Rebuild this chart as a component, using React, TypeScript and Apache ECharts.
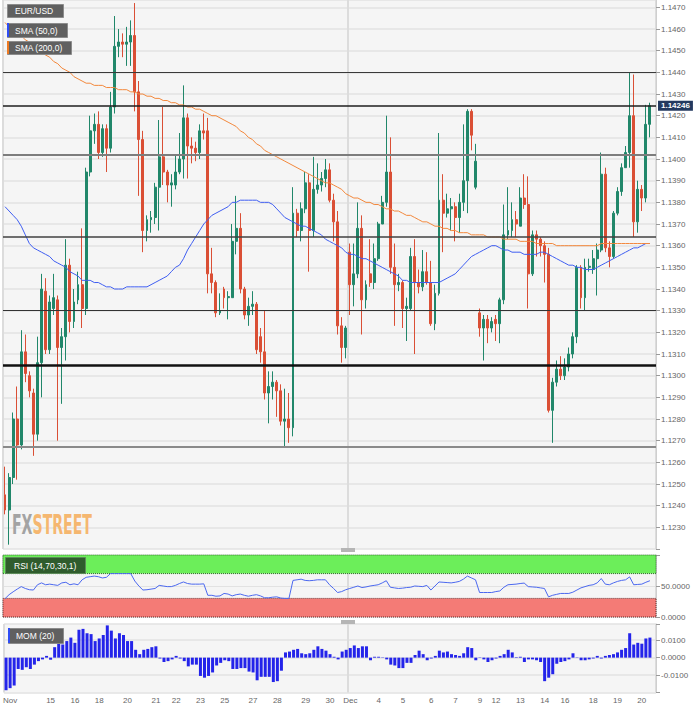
import React, { useEffect, useRef } from 'react';
import * as echarts from 'echarts';

// [open, high, low, close]
const candles: number[][] = [
  [1.1245, 1.1258, 1.1236, 1.1238], [1.1238, 1.1255, 1.1222, 1.1253], [1.1253, 1.1283, 1.1250, 1.1280], [1.1280, 1.1295, 1.1252, 1.1268],
  [1.1268, 1.1321, 1.1266, 1.1311], [1.1311, 1.1319, 1.1297, 1.1301], [1.1300, 1.1302, 1.1290, 1.1293], [1.1292, 1.1294, 1.1263, 1.1273],
  [1.1273, 1.1318, 1.1270, 1.1306], [1.1306, 1.1347, 1.1290, 1.1340], [1.1339, 1.1345, 1.1310, 1.1312], [1.1312, 1.1337, 1.1310, 1.1334],
  [1.1331, 1.1347, 1.1328, 1.1336], [1.1335, 1.1337, 1.1270, 1.1313], [1.1313, 1.1322, 1.1287, 1.1318], [1.1318, 1.1363, 1.1307, 1.1351],
  [1.1351, 1.1354, 1.1320, 1.1325], [1.1325, 1.1340, 1.1322, 1.1334], [1.1335, 1.1348, 1.1333, 1.1342], [1.1342, 1.1368, 1.1322, 1.1331],
  [1.1331, 1.1396, 1.1328, 1.1394], [1.1394, 1.1420, 1.1392, 1.1413], [1.1413, 1.1421, 1.1407, 1.1416], [1.1416, 1.1422, 1.1400, 1.1403],
  [1.1403, 1.1416, 1.1401, 1.1414], [1.1414, 1.1416, 1.1394, 1.1405], [1.1405, 1.1431, 1.1403, 1.1424], [1.1424, 1.1466, 1.1421, 1.1452],
  [1.1452, 1.1460, 1.1447, 1.1454], [1.1454, 1.1458, 1.1447, 1.1453], [1.1453, 1.1461, 1.1443, 1.1454], [1.1454, 1.1464, 1.1443, 1.1457],
  [1.1457, 1.1472, 1.1422, 1.1431], [1.1431, 1.1436, 1.1383, 1.1409], [1.1409, 1.1413, 1.1357, 1.1367], [1.1367, 1.1374, 1.1362, 1.1372],
  [1.1372, 1.1376, 1.1366, 1.1373], [1.1373, 1.1389, 1.1370, 1.1387], [1.1387, 1.1418, 1.1367, 1.1401], [1.1401, 1.1424, 1.1388, 1.1394],
  [1.1394, 1.1395, 1.1380, 1.1388], [1.1388, 1.1393, 1.1378, 1.1389], [1.1388, 1.1402, 1.1386, 1.1394], [1.1394, 1.1412, 1.1393, 1.1400],
  [1.1400, 1.1434, 1.1391, 1.1419], [1.1419, 1.1421, 1.1391, 1.1406], [1.1406, 1.1410, 1.1398, 1.1405], [1.1405, 1.1408, 1.1399, 1.1403],
  [1.1403, 1.1416, 1.1400, 1.1413], [1.1413, 1.1421, 1.1409, 1.1412], [1.1413, 1.1419, 1.1338, 1.1347], [1.1347, 1.1359, 1.1338, 1.1343],
  [1.1343, 1.1344, 1.1327, 1.1329], [1.1329, 1.1338, 1.1328, 1.1330], [1.1340, 1.1341, 1.1331, 1.1336], [1.1336, 1.1339, 1.1326, 1.13365],
  [1.1336, 1.1370, 1.1336, 1.1362], [1.1362, 1.1383, 1.1356, 1.1368], [1.1368, 1.1375, 1.1338, 1.1340], [1.1340, 1.1341, 1.1326, 1.1328],
  [1.1328, 1.1336, 1.1323, 1.1332], [1.1332, 1.1339, 1.1328, 1.1333], [1.1333, 1.1334, 1.1310, 1.1312], [1.1318, 1.1322, 1.1306, 1.1311],
  [1.1311, 1.1330, 1.1289, 1.1292], [1.1292, 1.1302, 1.1278, 1.1295], [1.1295, 1.1302, 1.1289, 1.1297], [1.1297, 1.1298, 1.1281, 1.1293],
  [1.1293, 1.1296, 1.1277, 1.1279], [1.1279, 1.1294, 1.1267, 1.1280], [1.1280, 1.1292, 1.1269, 1.1276], [1.1276, 1.1387, 1.1272, 1.1375],
  [1.1375, 1.1377, 1.1364, 1.1367], [1.1367, 1.1380, 1.1362, 1.1377], [1.1377, 1.1394, 1.1375, 1.1389], [1.1389, 1.1393, 1.1348, 1.1367],
  [1.1367, 1.1401, 1.1364, 1.1386], [1.1386, 1.1398, 1.1384, 1.1388], [1.1388, 1.1394, 1.1385, 1.1391], [1.1391, 1.1400, 1.1387, 1.1395],
  [1.1395, 1.1398, 1.1380, 1.1381], [1.1381, 1.1384, 1.1362, 1.1371], [1.1371, 1.1376, 1.1319, 1.1323], [1.1323, 1.1327, 1.1306, 1.1313],
  [1.1313, 1.1323, 1.1308, 1.1322], [1.1357, 1.1361, 1.1328, 1.1342], [1.1342, 1.1361, 1.1332, 1.1347], [1.1347, 1.1380, 1.1345, 1.1368],
  [1.1368, 1.1374, 1.1319, 1.1335], [1.1335, 1.1344, 1.1331, 1.1342], [1.1347, 1.1363, 1.1341, 1.1343], [1.1343, 1.1361, 1.1340, 1.1354],
  [1.1354, 1.1371, 1.1353, 1.1370], [1.1370, 1.1383, 1.1370, 1.1380], [1.1380, 1.1420, 1.1378, 1.1394], [1.1394, 1.1410, 1.1347, 1.1350],
  [1.1350, 1.1361, 1.1323, 1.1342], [1.1342, 1.1347, 1.1339, 1.1343], [1.1343, 1.1344, 1.1322, 1.1331], [1.1331, 1.1336, 1.1316, 1.1332],
  [1.1331, 1.1359, 1.1330, 1.1355], [1.1355, 1.1363, 1.1310, 1.1343], [1.1343, 1.1349, 1.1338, 1.1341], [1.1341, 1.1358, 1.1339, 1.1348],
  [1.1348, 1.1357, 1.1342, 1.1343], [1.1343, 1.1353, 1.1323, 1.1324], [1.1324, 1.1342, 1.1321, 1.1338], [1.1338, 1.1412, 1.1337, 1.1381],
  [1.1381, 1.1393, 1.1357, 1.1375], [1.1375, 1.1384, 1.1373, 1.1377], [1.1377, 1.1382, 1.1367, 1.1378], [1.1378, 1.1380, 1.1362, 1.1373],
  [1.1373, 1.1384, 1.1366, 1.1380], [1.1380, 1.1416, 1.1376, 1.1390], [1.1390, 1.1423, 1.1375, 1.1422], [1.1422, 1.1423, 1.1404, 1.1411],
  [1.1387, 1.1407, 1.1386, 1.1399], [1.1329, 1.1331, 1.1318, 1.1322], [1.1322, 1.1328, 1.1307, 1.1326], [1.1326, 1.1328, 1.1315, 1.1322],
  [1.1322, 1.1327, 1.1320, 1.1325], [1.1326, 1.1328, 1.1316, 1.1324], [1.1324, 1.1336, 1.1315, 1.1335], [1.1335, 1.1379, 1.1333, 1.1365],
  [1.1365, 1.1387, 1.1363, 1.1367], [1.1367, 1.1380, 1.1364, 1.1372], [1.1372, 1.1376, 1.1364, 1.1370], [1.1369, 1.1387, 1.1369, 1.1382],
  [1.1382, 1.1393, 1.1377, 1.1379], [1.1379, 1.1392, 1.1331, 1.1347], [1.1347, 1.1367, 1.1346, 1.1365], [1.1365, 1.1367, 1.1355, 1.1363],
  [1.1363, 1.1364, 1.1355, 1.1360], [1.1360, 1.1362, 1.1343, 1.1356], [1.1356, 1.1359, 1.1283, 1.1284], [1.1284, 1.1299, 1.1269, 1.1297],
  [1.1297, 1.1307, 1.1295, 1.1303], [1.1303, 1.1309, 1.1298, 1.1300], [1.1300, 1.1308, 1.1298, 1.1304], [1.1304, 1.1313, 1.1302, 1.1310],
  [1.1310, 1.1320, 1.1308, 1.1318], [1.1318, 1.1351, 1.1315, 1.1350], [1.1350, 1.1351, 1.1331, 1.1336], [1.1336, 1.1354, 1.1330, 1.1350],
  [1.1350, 1.1354, 1.1348, 1.13505], [1.1349, 1.1358, 1.1347, 1.1354], [1.1354, 1.1361, 1.1337, 1.1358], [1.1358, 1.1403, 1.1357, 1.1393],
  [1.1393, 1.1396, 1.1357, 1.1359], [1.1359, 1.1362, 1.1350, 1.1355], [1.1355, 1.1376, 1.1354, 1.1375], [1.1375, 1.1387, 1.1374, 1.1385],
  [1.1385, 1.1398, 1.1383, 1.1396], [1.1396, 1.1406, 1.1396, 1.1403], [1.1403, 1.1440, 1.1396, 1.1420], [1.1420, 1.1439, 1.1364, 1.1371],
  [1.1371, 1.1390, 1.1366, 1.1386], [1.1386, 1.1388, 1.1376, 1.1382], [1.1382, 1.1425, 1.1380, 1.1416], [1.1416, 1.1426, 1.1410, 1.14246],
];

const sma50 = [
  1.1378, 1.1376, 1.1374, 1.1372, 1.1369, 1.1365, 1.1361, 1.1359, 1.1358, 1.1357,
  1.1356, 1.1355, 1.1353, 1.1352, 1.1351, 1.1350, 1.1348, 1.1347, 1.1346, 1.1344,
  1.1344, 1.1344, 1.1343, 1.1343, 1.1342, 1.1341, 1.1341, 1.1340, 1.1340, 1.1340,
  1.1341, 1.1341, 1.1341, 1.1341, 1.1341, 1.1341, 1.1342, 1.1343, 1.1344, 1.1345,
  1.1346, 1.1348, 1.1350, 1.1351, 1.1354, 1.1358, 1.1361, 1.1364, 1.1367, 1.1370,
  1.1372, 1.1374, 1.1375, 1.1376, 1.1377, 1.1378, 1.1380, 1.1380, 1.1381, 1.1381,
  1.1381, 1.1381, 1.1381, 1.1380, 1.1380, 1.1380, 1.1379, 1.1377, 1.1375, 1.1373,
  1.1372, 1.1371, 1.1370, 1.1369, 1.1369, 1.1368, 1.1367, 1.1366, 1.1365, 1.1363,
  1.1362, 1.1361, 1.1360, 1.1359, 1.1357, 1.1356, 1.1356, 1.1355, 1.1354, 1.1354,
  1.1353, 1.1352, 1.1351, 1.1350, 1.1349, 1.1348, 1.1347, 1.1346, 1.1344, 1.1344,
  1.1343, 1.1343, 1.1343, 1.1343, 1.1343, 1.1343, 1.1343, 1.1343, 1.1344, 1.1345,
  1.1346, 1.1347, 1.1349, 1.1351, 1.1353, 1.1355, 1.1356, 1.1357, 1.1358, 1.1359,
  1.1360, 1.1360, 1.1359, 1.1358, 1.1358, 1.1357, 1.1357, 1.1357, 1.1356, 1.1356,
  1.1356, 1.1356, 1.1357, 1.1357, 1.1356, 1.1355, 1.1354, 1.1353, 1.1352, 1.1351,
  1.1351, 1.1350, 1.1350, 1.1349, 1.1349, 1.1349, 1.1350, 1.1351, 1.1352, 1.1353,
  1.1354, 1.1355, 1.1356, 1.1357, 1.1358, 1.1359, 1.1359, 1.1360, 1.1361, 1.1361,
];

const sma200 = [
  1.1463, 1.1461, 1.1460, 1.1458, 1.1457, 1.1455, 1.1454, 1.1452, 1.1451, 1.1449,
  1.1448, 1.1447, 1.1445, 1.1444, 1.1442, 1.1441, 1.1440, 1.1438, 1.1437, 1.1436,
  1.1435, 1.1435, 1.1434, 1.1434, 1.1434, 1.1433, 1.1433, 1.1433, 1.1432, 1.1432,
  1.1432, 1.1431, 1.1431, 1.1430, 1.1430, 1.1429, 1.1429, 1.1428, 1.1428, 1.1427,
  1.1427, 1.1426, 1.1426, 1.1425, 1.1425, 1.1424, 1.1424, 1.1423, 1.1423, 1.1422,
  1.1421, 1.1420, 1.1420, 1.1419, 1.1418, 1.1417, 1.1416, 1.1415, 1.1413, 1.1412,
  1.1410, 1.1409, 1.1407, 1.1406, 1.1404, 1.1403, 1.1402, 1.1401, 1.1400, 1.1399,
  1.1398, 1.1397, 1.1396, 1.1395, 1.1394, 1.1393, 1.1392, 1.1391, 1.1390, 1.1389,
  1.1389, 1.1388, 1.1387, 1.1386, 1.1384, 1.1383, 1.1382, 1.1382, 1.1381, 1.1380,
  1.1380, 1.1379, 1.1379, 1.1378, 1.1377, 1.1377, 1.1376, 1.1376, 1.1375, 1.1374,
  1.1374, 1.1373, 1.1372, 1.1371, 1.1371, 1.1370, 1.1369, 1.1369, 1.1368, 1.1368,
  1.1367, 1.1367, 1.1366, 1.1366, 1.1366, 1.1365, 1.1365, 1.1365, 1.1365, 1.1364,
  1.1364, 1.1364, 1.1364, 1.1363, 1.1363, 1.1363, 1.1363, 1.1362, 1.1362, 1.1362,
  1.1362, 1.1361, 1.1361, 1.1361, 1.1361, 1.1361, 1.1360, 1.1360, 1.1360, 1.1360,
  1.1360, 1.1360, 1.1360, 1.1360, 1.1360, 1.1360, 1.1360, 1.1361, 1.1361, 1.1361,
  1.1361, 1.1361, 1.1361, 1.1361, 1.1361, 1.1361, 1.1361, 1.1361, 1.1361, 1.1361,
];

const rsi = [
  29.5, 36, 40.6, 45, 49, 46, 44, 43.5, 52, 55,
  52, 53, 52, 51, 55, 56, 52, 53.5, 52, 60,
  64, 65, 66, 65, 63, 64, 70, 70, 70, 70,
  70, 70, 58, 50, 43.5, 44, 45, 46, 51, 50,
  49, 49, 51, 54, 56.5, 54, 53, 53, 53, 53.5,
  35, 35, 33.5, 34, 38, 37, 34, 36, 37, 35,
  33.5, 35, 36, 34, 31, 31, 32, 32.5, 30.5, 30,
  30, 59, 60, 61, 59, 58.5, 59, 60, 60, 60,
  52, 46, 39.5, 41, 44, 46, 48, 50, 47.5, 48.5,
  50, 51, 52, 55, 58.5, 48, 47, 46, 46.5, 47.5,
  48, 50, 49.5, 49, 51, 43.5, 50, 56.5, 56, 55.5,
  55, 56, 57.4, 61, 66, 63, 60, 39.5, 39.5, 39.5,
  39.5, 41, 42, 48, 52, 52.5, 53, 54, 54.7, 49,
  48.5, 48, 47, 46, 32.5, 35, 36.5, 38, 38, 38,
  40, 43.5, 47, 49, 51, 52, 55, 62, 53, 52,
  55, 57.4, 59, 60, 64.7, 52, 52.5, 53, 56, 58.5,
];

const mom = [
  -0.0187, -0.0175, -0.016, -0.0065, -0.007, -0.0055, -0.0065, -0.004, -0.002, -0.001,
  0.001, -0.0012, 0.006, 0.009, 0.0075, 0.0095, 0.0115, 0.0085, 0.016, 0.0165,
  0.014, 0.0135, 0.0095, 0.011, 0.013, 0.0185, 0.0155, 0.011, 0.014, 0.013,
  0.0095, 0.0095, 0.0045, 0.002, 0.0045, 0.005, 0.006, 0.0065, -0.0005, -0.0025,
  -0.002, -0.001, 0.001, -0.0005, -0.002, -0.005, -0.004, -0.004, -0.0105, -0.0115,
  -0.0105, -0.0085, -0.0045, -0.003, -0.0015, -0.002, -0.0065, -0.0065, -0.006, -0.006,
  -0.008, -0.0085, -0.013, -0.011, -0.011, -0.011, -0.014, -0.0135, -0.0075, 0.003,
  0.0035, 0.0045, 0.005, 0.0025, 0.002, 0.0025, 0.0045, 0.0065, 0.005, 0.004,
  0.002, 0.0005, -0.001, 0.0035, 0.0045, 0.0055, 0.007, 0.0055, 0.0065, 0.0065,
  -0.0015, 0.0005, 0.0005, 0.0002, -0.001, -0.004, -0.0045, -0.006, -0.006, -0.003,
  -0.003, 0.0015, 0.004, 0.002, -0.0015, -0.0005, 0.001, 0.004, 0.003, 0.0035,
  0.002, 0.0015, 0.001, 0.0025, 0.006, 0.0055, -0.0015, 0.0002, -0.001, -0.0025,
  -0.0015, -0.0005, 0.001, 0.002, 0.0045, 0.003, 0.0003, 0.0005, -0.0025, -0.001,
  -0.001, -0.0015, -0.0025, -0.0135, -0.0115, -0.0095, -0.0035, -0.0025, -0.002, -0.001,
  0.0025, 0.0002, -0.0015, -0.0015, -0.001, -0.0005, 0.001, -0.0005, 0.001, 0.0015,
  0.002, 0.003, 0.0045, 0.0055, 0.014, 0.0075, 0.0085, 0.008, 0.011, 0.0115,
];

const levels = [1.144, 1.14246, 1.1402, 1.1364, 1.133, 1.1305, 1.12672];
const dayLabels = ['Nov', '15', '16', '18', '20', '21', '22', '23', '25', '27', '28', '29', '30', 'Dec', '4', '5', '6', '7', '9', '12', '13', '14', '16', '18', '19', '20'];
const dayLabelIndex = [1, 11, 17, 23, 30, 37, 42, 48, 54, 61, 67, 74, 80, 85, 92, 98, 105, 111, 117, 121, 127, 133, 138, 145, 151, 157];
const monthStartIndex = [0, 85];
const legendNames = ['EUR/USD', 'SMA (50,0)', 'SMA (200,0)'];

const FONT = '"Liberation Sans", Arial, sans-serif';
const TEAL = '#21876a';
const RED = '#da4f35';

const levelStyle = (i: number) => {
  const styles = [
    { color: '#3a3a3a', width: 1 },
    { color: '#1e1e1e', width: 1.5 },
    { color: '#7d7d7d', width: 2 },
    { color: '#404040', width: 1.5 },
    { color: '#333333', width: 1 },
    { color: '#111111', width: 2.5 },
    { color: '#8a8a8a', width: 2 },
  ];
  return styles[i];
};

export default function App() {
  const ref = useRef<HTMLDivElement>(null);
  useEffect(() => {
    const chart = echarts.init(ref.current!, null, { renderer: 'svg' });
    const n = candles.length;
    const categories = Array.from({ length: n + 1 }, (_, i) => String(i));
    const lastClose = candles[n - 1][3];
    const gridL = 3;
    const gridR = 39;

    const xBase = (gi: number, showLabels: boolean) => ({
      type: 'category',
      gridIndex: gi,
      data: categories,
      boundaryGap: true,
      axisLine: { show: false },
      axisTick: { show: false },
      axisLabel: showLabels
        ? {
            show: true,
            interval: (idx: number) => dayLabelIndex.includes(idx),
            formatter: (_v: string, idx: number) => {
              const k = dayLabelIndex.indexOf(idx);
              return k >= 0 ? dayLabels[k] : '';
            },
            color: '#666',
            fontSize: 8,
            fontFamily: FONT,
            margin: 4,
          }
        : { show: false },
      splitLine: {
        show: true,
        interval: (idx: number) => monthStartIndex.includes(idx),
        lineStyle: { color: '#dcdcdc', width: 2 },
      },
    });

    const yLabel = (hide: (v: number) => boolean) => ({
      show: true,
      color: '#666',
      fontSize: 8,
      fontFamily: FONT,
      margin: 5,
      formatter: (v: number) => (hide(v) ? '' : v.toFixed(4)),
    });

    const yAxisCommon = {
      position: 'right',
      axisLine: { show: true, lineStyle: { color: '#cfcfcf' } },
      axisTick: { show: true, length: 4, lineStyle: { color: '#999' } },
    };

    const G = (o: any) => ({ z: 100, zlevel: 0, ...o });

    const option: any = {
      animation: false,
      backgroundColor: '#ffffff',
      grid: [
        { left: gridL, right: gridR, top: 0, height: 549, show: true, backgroundColor: '#f5f5f5', borderWidth: 0 },
        { left: gridL, right: gridR, top: 555, height: 62, show: true, backgroundColor: '#f5f5f5', borderWidth: 0 },
        { left: gridL, right: gridR, top: 624, height: 68.5, show: true, backgroundColor: '#f5f5f5', borderWidth: 0 },
      ],
      xAxis: [xBase(0, false), xBase(1, false), xBase(2, true)],
      yAxis: [
        {
          ...yAxisCommon,
          type: 'value',
          gridIndex: 0,
          min: 1.122,
          max: 1.14734,
          interval: 0.001,
          axisLabel: yLabel((v) => v < 1.1225),
          splitLine: { show: true, lineStyle: { color: '#e2e2e2', width: 1.5 } },
        },
        {
          ...yAxisCommon,
          type: 'value',
          gridIndex: 1,
          min: 0,
          max: 100,
          interval: 50,
          axisLabel: yLabel((v) => v > 99),
          splitLine: { show: true, lineStyle: { color: '#e2e2e2' } },
        },
        {
          ...yAxisCommon,
          type: 'value',
          gridIndex: 2,
          min: -0.02,
          max: 0.0193,
          interval: 0.01,
          axisLabel: yLabel((v) => v < -0.015 || v > 0.015),
          splitLine: { show: true, lineStyle: { color: '#e2e2e2', width: 1.5 } },
        },
      ],
      series: [
        {
          type: 'candlestick',
          xAxisIndex: 0,
          yAxisIndex: 0,
          barWidth: 2.4,
          data: candles.map(([o, h, l, c]) => [o, c, l, h]),
          itemStyle: { color: TEAL, color0: RED, borderColor: TEAL, borderColor0: RED, borderWidth: 1 },
          markLine: {
            silent: true,
            precision: 5,
            symbol: ['none', 'none'],
            animation: false,
            data: levels.map((v, i) => ({
              yAxis: v,
              lineStyle: { type: 'solid', color: levelStyle(i).color, width: levelStyle(i).width },
              label:
                v === lastClose
                  ? {
                      show: true,
                      position: 'end',
                      distance: 2,
                      formatter: lastClose.toFixed(5),
                      color: '#ffffff',
                      backgroundColor: '#23395f',
                      padding: [1, 3, 1, 3],
                      fontSize: 8,
                      fontWeight: 'bold',
                      fontFamily: FONT,
                    }
                  : { show: false },
            })),
          },
          z: 3,
        },
        {
          type: 'line',
          name: legendNames[1],
          xAxisIndex: 0,
          yAxisIndex: 0,
          data: sma50,
          symbol: 'none',
          lineStyle: { color: '#3f5ef2', width: 1 },
          z: 4,
        },
        {
          type: 'line',
          name: legendNames[2],
          xAxisIndex: 0,
          yAxisIndex: 0,
          data: sma200,
          symbol: 'none',
          lineStyle: { color: '#f3883c', width: 1 },
          z: 4,
        },
        {
          type: 'line',
          xAxisIndex: 1,
          yAxisIndex: 1,
          data: rsi,
          symbol: 'none',
          lineStyle: { color: '#4b68ef', width: 1 },
          markArea: {
            silent: true,
            data: [
              [
                { yAxis: 70, itemStyle: { color: '#6cee5a', borderColor: '#2f6a2a', borderWidth: 1, borderType: 'dotted' } },
                { yAxis: 100 },
              ],
              [
                { yAxis: 0, itemStyle: { color: '#f47b76', borderColor: '#6a2a2a', borderWidth: 1, borderType: 'dotted' } },
                { yAxis: 30 },
              ],
            ],
          },
        },
        {
          type: 'bar',
          xAxisIndex: 2,
          yAxisIndex: 2,
          data: mom,
          barWidth: 3,
          itemStyle: { color: '#2424ea' },
        },
      ],
      graphic: [
        // legend boxes
        G({ type: 'rect', left: 7, top: 4, shape: { width: 56, height: 13 }, style: { fill: '#606060', stroke: '#8c8c8c', lineWidth: 1 } }),
        G({ type: 'text', left: 15, top: 6, style: { text: legendNames[0], fill: '#fff', fontSize: 8.5, fontFamily: FONT } }),
        G({ type: 'rect', left: 7, top: 23, shape: { width: 60, height: 14 }, style: { fill: '#606060', stroke: '#8c8c8c', lineWidth: 1 } }),
        G({ type: 'rect', left: 7, top: 23, shape: { width: 2, height: 14 }, style: { fill: '#2f4df5' } }),
        G({ type: 'text', left: 15, top: 26, style: { text: legendNames[1], fill: '#fff', fontSize: 8.5, fontFamily: FONT } }),
        G({ type: 'rect', left: 7, top: 41, shape: { width: 64, height: 13 }, style: { fill: '#606060', stroke: '#8c8c8c', lineWidth: 1 } }),
        G({ type: 'rect', left: 7, top: 41, shape: { width: 2, height: 13 }, style: { fill: '#ee7a22' } }),
        G({ type: 'text', left: 15, top: 43, style: { text: legendNames[2], fill: '#fff', fontSize: 8.5, fontFamily: FONT } }),
        // RSI label
        G({ type: 'rect', left: 5, top: 557, shape: { width: 80, height: 16 }, style: { fill: '#2f5c2d', stroke: '#5c8a58', lineWidth: 1 } }),
        G({ type: 'text', left: 14, top: 561, style: { text: 'RSI (14,70,30,1)', fill: '#fff', fontSize: 8.5, fontFamily: FONT } }),
        // MOM label
        G({ type: 'rect', left: 8, top: 628, shape: { width: 55, height: 15 }, style: { fill: '#606060', stroke: '#8c8c8c', lineWidth: 1 } }),
        G({ type: 'rect', left: 8, top: 628, shape: { width: 2, height: 15 }, style: { fill: '#2f4df5' } }),
        G({ type: 'text', left: 16, top: 631, style: { text: 'MOM (20)', fill: '#fff', fontSize: 8.5, fontFamily: FONT } }),
        // grips
        G({ type: 'rect', left: 341, top: 548, shape: { width: 14, height: 4 }, style: { fill: '#b5b5b5' } }),
        G({ type: 'rect', left: 341, top: 620, shape: { width: 14, height: 4 }, style: { fill: '#b5b5b5' } }),
        // logo
        {
          type: 'text',
          x: 12,
          y: 511,
          scaleX: 0.58,
          z: 1,
          style: {
            text: '{a|FX}{b|STREET}',
            rich: {
              a: { fill: '#a3a3a3', fontSize: 27, fontWeight: 'bold', fontFamily: '"DejaVu Sans Condensed", "DejaVu Sans", sans-serif' },
              b: { fill: '#f5b770', fontSize: 27, fontWeight: 'bold', fontFamily: '"DejaVu Sans Condensed", "DejaVu Sans", sans-serif' },
            },
          },
        },
      ],
    };
    chart.setOption(option);
    return () => chart.dispose();
  }, []);
  return (
    <div
      ref={ref}
      style={{ position: 'absolute', left: 0, top: 0, width: 695, height: 707, background: '#fff' }}
    />
  );
}
